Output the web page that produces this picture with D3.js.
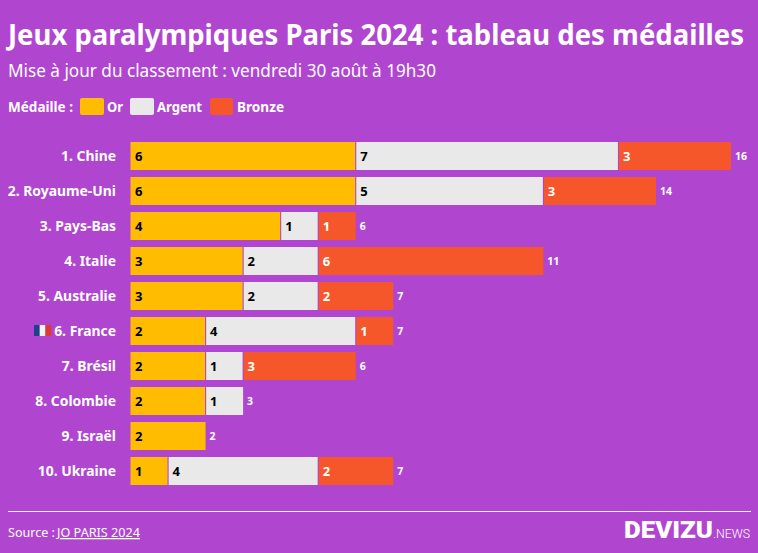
<!DOCTYPE html>
<html><head><meta charset="utf-8">
<script src="https://cdn.jsdelivr.net/npm/d3@7/dist/d3.min.js"></script>
<style>
html,body{margin:0;padding:0;background:#b046cf;}
svg{display:block;}
text{font-family:"Noto Sans","Open Sans",sans-serif;}
</style></head><body>
<script>
const countries=["1. Chine","2. Royaume-Uni","3. Pays-Bas","4. Italie","5. Australie","6. France","7. Brésil","8. Colombie","9. Israël","10. Ukraine"];
const gold=[6,6,4,3,3,2,2,2,2,1];
const silver=[7,5,1,2,2,4,1,1,0,4];
const bronze=[3,3,1,6,2,1,3,0,0,2];
const medals=["Or","Argent","Bronze"];
const medalColors=["#ffbc00","#e9e9e9","#f5572b"];
const labelColors=["#000","#000","#fff"];
const flagColors=["#1f3f8f","#f4f4f8","#dc3a36"];
const W=758,H=553;
const svg=d3.select("body").append("svg").attr("width",W).attr("height",H);
svg.append("rect").attr("width",W).attr("height",H).attr("fill","#b046cf");
function T(x,y,s,size,weight,opts={}){
  const t=svg.append("text").attr("x",x).attr("y",y).text(s).attr("font-size",size).attr("font-weight",weight).attr("fill",opts.fill||"#fff").attr("text-anchor",opts.anchor||"start");
  if(opts.len){t.attr("textLength",opts.len).attr("lengthAdjust","spacingAndGlyphs");}
  return t;
}
T(8,45,"Jeux paralympiques Paris 2024 : tableau des médailles",28,700,{len:736});
T(8,77,"Mise à jour du classement : vendredi 30 août à 19h30",17.5,400,{len:428});
T(8,112,"Médaille :",13.5,700,{len:65});
const lg=[{x:80,w:24,tx:107,len:16},{x:130,w:24,tx:157,len:45},{x:210,w:23,tx:237,len:47}];
medals.forEach((m,i)=>{
  svg.append("rect").attr("x",lg[i].x).attr("y",98).attr("width",lg[i].w).attr("height",17).attr("rx",2).attr("fill",medalColors[i]);
  T(lg[i].tx,112,m,13.5,700,{len:lg[i].len});
});
const x=d3.scaleLinear().domain([0,16]).range([130.5,731]);
const y=d3.scaleBand().domain(countries).range([138.5,488.5]).paddingInner(0.2).paddingOuter(0.1);
const yAxis=d3.axisLeft(y).tickSize(0).tickPadding(14);
const ax=svg.append("g").attr("transform","translate(130,0.5)").call(yAxis);
ax.select(".domain").remove();
ax.selectAll("text").attr("font-size",13.9).attr("font-weight",700).attr("fill","#fff").style("font-family",'"Noto Sans","Open Sans",sans-serif');
const rows=countries.map((c,i)=>({c,v:[gold[i],silver[i],bronze[i]]}));
rows.forEach(r=>{
  let cum=0;
  r.v.forEach((v,k)=>{
    if(!v)return;
    const x0=x(cum)+(cum>0?0.6:0),x1=x(cum+v)-(cum+v<r.v[0]+r.v[1]+r.v[2]?0.5:0);
    svg.append("rect").attr("x",x0).attr("y",y(r.c)).attr("width",x1-x0).attr("height",y.bandwidth()).attr("fill",medalColors[k]);
    T(x(cum)+4.5,y(r.c)+y.bandwidth()/2+5,v,13,700,{fill:labelColors[k]});
    cum+=v;
  });
  T(x(cum)+4,y(r.c)+y.bandwidth()/2+4,cum,10.5,700);
});
// flag next to France
const fx=d3.scaleBand().domain(flagColors).range([34,51]);
flagColors.forEach(c=>svg.append("rect").attr("x",fx(c)).attr("y",y("6. France")+8).attr("width",fx.bandwidth()+0.3).attr("height",11).attr("fill",c));
svg.append("line").attr("x1",8).attr("x2",751).attr("y1",511.5).attr("y2",511.5).attr("stroke","#fff").attr("stroke-width",1);
T(8,537,"Source :",13,400,{len:47});
T(57,537,"JO PARIS 2024",13,400,{len:83}).attr("text-decoration","underline");
T(624,538,"DEVIZU",24,900,{len:89}).style("font-family","Roboto,'Noto Sans',sans-serif");
T(713,538,".NEWS",13,300,{len:37}).style("font-family","Roboto,'Noto Sans',sans-serif");
</script>
</body></html>
